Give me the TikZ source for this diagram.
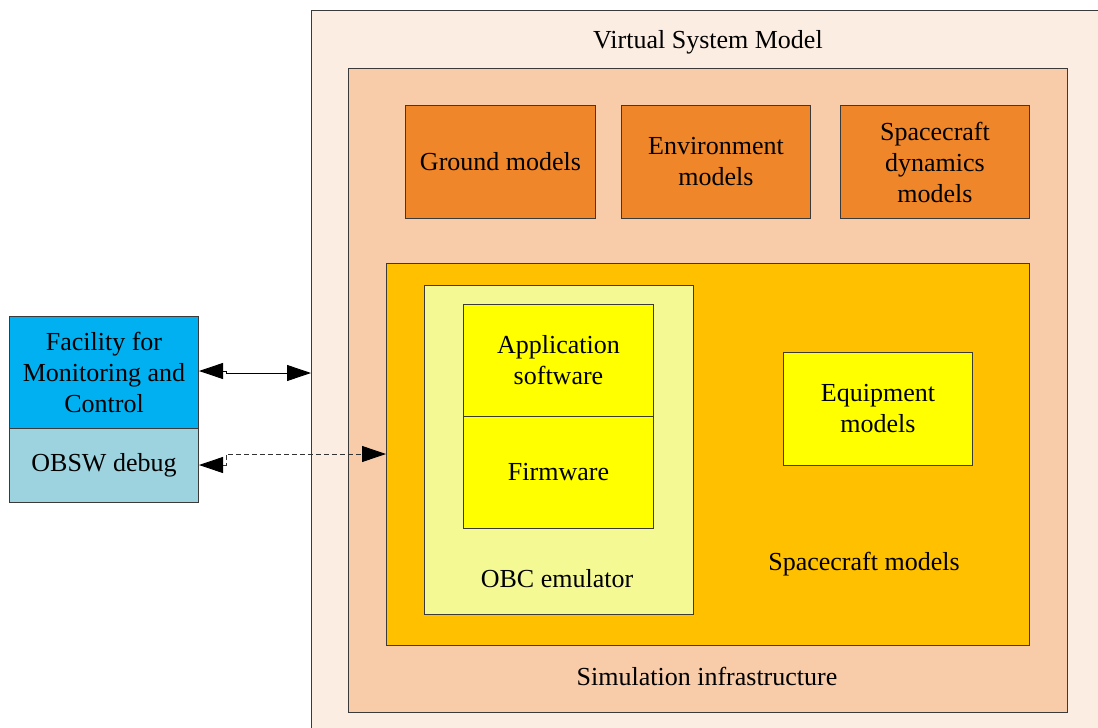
\documentclass[tikz,border=0pt]{standalone}
\usepackage{fontspec}
\setmainfont{Liberation Serif}
\usetikzlibrary{arrows.meta}
\definecolor{vsmfill}{HTML}{FCEDE2}
\definecolor{infrafill}{HTML}{F8CBA9}
\definecolor{modelfill}{HTML}{F0862A}
\definecolor{scfill}{HTML}{FFC000}
\definecolor{obcfill}{HTML}{F5F993}
\definecolor{swfill}{HTML}{FFFF00}
\definecolor{facfill}{HTML}{00B0F0}
\definecolor{dbgfill}{HTML}{9DD3DF}
\definecolor{edge}{HTML}{3A3A3A}
\begin{document}
\begin{tikzpicture}[x=1pt,y=-1pt,
  every node/.style={font=\fontsize{26}{31}\selectfont, align=center, inner sep=0pt},
  box/.style={rectangle, draw=edge, line width=1pt, anchor=north west},
  bitip/.style={{Triangle[length=24pt,width=16pt,color=black]}-{Triangle[length=24pt,width=16pt,color=black]}},
  link/.style={line width=0.9pt, black},
]
\path[use as bounding box] (0,0) rectangle (1098,728);
\clip (0,0) rectangle (1098,728);

% outer and infrastructure frames
\node[box, fill=vsmfill, minimum width=820pt, minimum height=740pt] (vsm) at (311,10) {};
\node at (708,42) {Virtual System Model};
\node[box, fill=infrafill, minimum width=719pt, minimum height=644pt] (infra) at (348,68) {};
\node at (707,676) {Simulation infrastructure};

% environment-level models
\node[box, fill=modelfill, minimum width=190pt, minimum height=113pt] (ground) at (405,105) {};
\node at (ground.center) {Ground models};
\node[box, fill=modelfill, minimum width=189pt, minimum height=113pt] (env) at (621,105) {};
\node at (env.center) {Environment\\models};
\node[box, fill=modelfill, minimum width=189pt, minimum height=113pt] (dyn) at (840,105) {};
\node at (dyn.center) {Spacecraft\\dynamics\\models};

% spacecraft models
\node[box, fill=scfill, minimum width=643pt, minimum height=382pt] (scm) at (386,263) {};
\node at (864,564) {Spacecraft models};
\node[box, fill=obcfill, minimum width=269pt, minimum height=329pt] (obc) at (424,285) {};
\node at (557,579) {OBC emulator};
\node[box, fill=swfill, minimum width=190pt, minimum height=112pt] (app) at (463,304) {};
\node at (app.center) {Application\\software};
\node[box, fill=swfill, minimum width=190pt, minimum height=112pt] (fw) at (463,416) {};
\node at (fw.center) {Firmware};
\node[box, fill=swfill, minimum width=189pt, minimum height=113pt] (equip) at (783,352) {};
\node at (equip.center) {Equipment\\models};

% external facility
\node[box, fill=facfill, minimum width=189pt, minimum height=112pt] (fac) at (9,316) {};
\node at (fac.center) {Facility for\\Monitoring and\\Control};
\node[box, fill=dbgfill, minimum width=189pt, minimum height=74pt] (dbg) at (9,428) {};
\node at (dbg.center) {OBSW debug};

% connections
\coordinate (j1) at (226,371);
\coordinate (j2) at (226,454);
\draw[link, bitip] (fac.east |- j1) -- (j1) -- ++(0,2) -- (vsm.west |- 0,373);
\draw[link, bitip, draw=black!80, dash pattern=on 5pt off 3pt] (dbg.east |- 0,465) -- (j2 |- 0,465) -- (j2) -- (scm.west |- j2);
\end{tikzpicture}
\end{document}
